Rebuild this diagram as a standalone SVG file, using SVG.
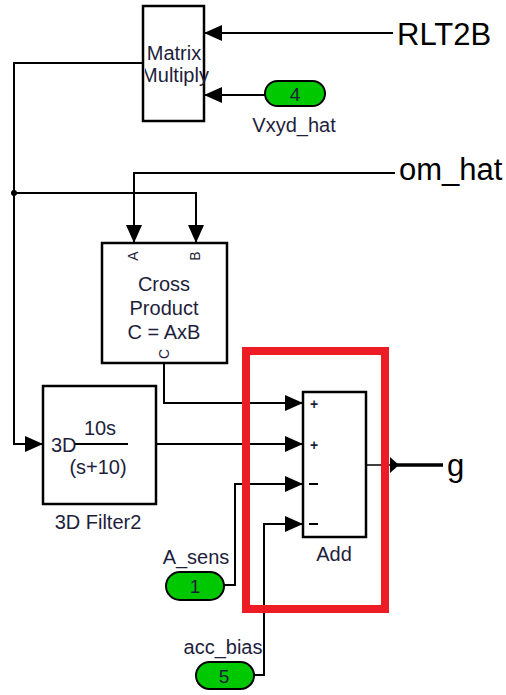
<svg xmlns="http://www.w3.org/2000/svg" width="506" height="695" viewBox="0 0 506 695">
<style>
.blk{fill:#fff;stroke:#000;stroke-width:2.5}
.w{fill:none;stroke:#000;stroke-width:2}
.t{font-family:"Liberation Sans",Arial,sans-serif;fill:#1e1e3c}
.pill{fill:#00c800;stroke:#000;stroke-width:2}
.big{font-family:"Liberation Sans",Arial,sans-serif;fill:#000;font-size:31px}
</style>
<defs>
<marker id="ah" markerWidth="18" markerHeight="18" refX="18" refY="8" orient="auto" markerUnits="userSpaceOnUse">
<path d="M0,0 L18,8 L0,16 Z" fill="#000"/>
</marker>
<clipPath id="mmclip"><rect x="145" y="7" width="64" height="113"/></clipPath>
</defs>
<g id="connectors">
<path class="w" d="M393,33 H204" marker-end="url(#ah)"/>
<path class="w" d="M265,95 H204" marker-end="url(#ah)"/>
<path class="w" d="M143,63 H14 V444 H43" marker-end="url(#ah)"/>
<path class="w" d="M14,193 H196 V243" marker-end="url(#ah)"/>
<circle cx="14" cy="193" r="3" fill="#000"/>
<path class="w" d="M395,173 H134 V243" marker-end="url(#ah)"/>
<path class="w" d="M164,363 V403 H303" marker-end="url(#ah)"/>
<path class="w" d="M156,444 H303" marker-end="url(#ah)"/>
<path class="w" d="M224,585 H235 V484 H303" marker-end="url(#ah)"/>
<path class="w" d="M254,675 H264 V524 H303" marker-end="url(#ah)"/>
<path fill="none" stroke="#000" stroke-width="1.5" d="M366,465 H392"/>
<path fill="none" stroke="#000" stroke-width="3.5" d="M392,465 H443"/>
<path d="M390,457 L399,465 L390,473 Z" fill="#000"/>
</g>
<g id="highlight">
<rect x="246" y="351" width="139" height="258" fill="none" stroke="#ed1c24" stroke-width="8"/>
</g>
<g id="matrix-multiply">
<rect class="blk" x="143" y="6" width="61" height="115"/>
<g clip-path="url(#mmclip)">
<text class="t" x="174" y="60" font-size="20" text-anchor="middle" fill="#2a2a70">Matrix</text>
<text class="t" x="175" y="82" font-size="20" text-anchor="middle" fill="#2a2a70">Multiply</text>
</g>
</g>
<g id="rlt2b"><text class="big" x="397" y="45">RLT2B</text></g>
<g id="vxyd-hat">
<rect class="pill" x="265" y="81" width="60" height="25" rx="12.5"/>
<text class="t" x="295" y="101" font-size="19" text-anchor="middle">4</text>
<text class="t" x="294" y="132" font-size="20" text-anchor="middle">Vxyd_hat</text>
</g>
<g id="om-hat"><text class="big" x="399" y="180">om_hat</text></g>
<g id="cross-product">
<rect class="blk" x="102" y="243" width="125" height="120"/>
<text class="t" font-size="14" text-anchor="middle" transform="translate(138,256) rotate(-90)">A</text>
<text class="t" font-size="14" text-anchor="middle" transform="translate(200,256) rotate(-90)">B</text>
<text class="t" x="164" y="291" font-size="20" text-anchor="middle">Cross</text>
<text class="t" x="164" y="315" font-size="20" text-anchor="middle">Product</text>
<text class="t" x="164" y="339" font-size="20" text-anchor="middle">C = AxB</text>
<text class="t" font-size="14" text-anchor="middle" transform="translate(169,354) rotate(-90)">C</text>
</g>
<g id="filter">
<rect class="blk" x="43" y="386" width="113" height="118"/>
<text class="t" x="51" y="452" font-size="20">3D</text>
<text class="t" x="100" y="435" font-size="20" text-anchor="middle">10s</text>
<line x1="75" y1="444" x2="128" y2="444" stroke="#000" stroke-width="2"/>
<text class="t" x="98" y="474" font-size="20" text-anchor="middle">(s+10)</text>
<text class="t" x="98" y="529" font-size="20" text-anchor="middle">3D Filter2</text>
</g>
<g id="add">
<rect class="blk" x="303" y="392" width="63" height="145"/>
<text class="t" x="314" y="409" font-size="14" font-weight="bold" text-anchor="middle" fill="#000">+</text>
<text class="t" x="314" y="450" font-size="14" font-weight="bold" text-anchor="middle" fill="#000">+</text>
<line x1="309" y1="484" x2="318" y2="484" stroke="#000" stroke-width="2"/>
<line x1="309" y1="524" x2="318" y2="524" stroke="#000" stroke-width="2"/>
<text class="t" x="334" y="561" font-size="20" text-anchor="middle">Add</text>
</g>
<g id="g-out"><text class="big" x="447" y="476">g</text></g>
<g id="a-sens">
<rect class="pill" x="166" y="572" width="58" height="28" rx="14"/>
<text class="t" x="195" y="593" font-size="19" text-anchor="middle">1</text>
<text class="t" x="196" y="564" font-size="20" text-anchor="middle">A_sens</text>
</g>
<g id="acc-bias">
<rect class="pill" x="196" y="662" width="58" height="27" rx="13.5"/>
<text class="t" x="224" y="683" font-size="19" text-anchor="middle">5</text>
<text class="t" x="223" y="654" font-size="20" text-anchor="middle">acc_bias</text>
</g>
</svg>
